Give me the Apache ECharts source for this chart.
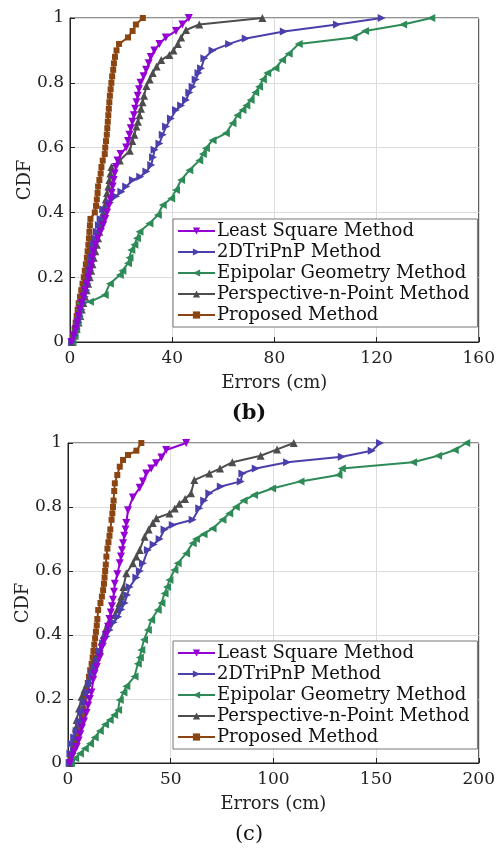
<!DOCTYPE html>
<html>
<head>
<meta charset="utf-8">
<title>CDF of errors</title>
<script src="https://cdn.jsdelivr.net/npm/echarts@6/dist/echarts.min.js"></script>
<style>
	html, body { margin: 0; padding: 0; background: #fff; }
	#main { width: 498px; height: 850px; }
</style>
</head>
<body>
<div id="main"></div>
<script>
// legend names
var methodNames = ['Least Square Method', '2DTriPnP Method', 'Epipolar Geometry Method', 'Perspective-n-Point Method', 'Proposed Method'];

// ---- (b) ----
var lsErrB = [0.6,1.5,2.3,2.9,3.4,3.9,4.5,5.2,5.9,6.6,7.2,7.8,8.4,8.8,9.2,10,10.9,12,13,13.8,14.5,15.2,15.8,16.3,16.7,17.1,17.5,18,18.6,19.8,22,22.7,23.3,23.8,24.4,25,25.5,26,26.5,27,27.6,28.8,29.8,30.8,31.6,33,35,37.5,41.5,44,46.5];
var lsCdfB = [0,0.02,0.04,0.06,0.08,0.10,0.12,0.14,0.16,0.18,0.20,0.22,0.24,0.26,0.28,0.30,0.32,0.34,0.36,0.38,0.40,0.42,0.44,0.46,0.48,0.50,0.52,0.54,0.56,0.58,0.60,0.62,0.64,0.66,0.68,0.70,0.72,0.74,0.76,0.78,0.80,0.82,0.84,0.86,0.88,0.90,0.92,0.94,0.96,0.98,1];

var triErrB = [0.8,1.8,2.6,3.3,3.9,4.5,5.2,5.8,6.4,6.9,7.4,7.9,8.3,8.6,9,9.4,9.8,10.5,11.3,12,13,15.6,18,20.1,22,24.6,27.5,29.9,31.8,32.5,33.1,35,36.3,37.6,39.5,41.5,43.5,45.4,46.7,48,49.2,50.3,51.3,52.6,55.8,62.3,68.8,83.7,104.5,122];
var triCdfB = [0,0.02,0.04,0.06,0.08,0.10,0.12,0.14,0.16,0.18,0.20,0.22,0.24,0.26,0.28,0.30,0.32,0.34,0.36,0.38,0.41,0.43,0.45,0.464,0.48,0.50,0.51,0.526,0.546,0.57,0.593,0.613,0.64,0.665,0.69,0.716,0.73,0.747,0.77,0.788,0.81,0.83,0.845,0.876,0.90,0.92,0.937,0.958,0.98,1];

var epiErrB = [1,1.8,2.4,2.9,3.3,3.6,3.9,7.8,13.6,15.6,19.5,20.5,22.7,23.3,24,25.2,26.2,27.2,31.1,34.4,36.3,39.6,41.5,43.5,46.7,50.6,52,53.2,55.8,61,63.6,65.5,67.5,69,70.7,72.5,74,75.5,77.2,80.4,83,85.6,89.5,111,115.5,130.4,141.4];
var epiCdfB = [0,0.02,0.04,0.06,0.08,0.10,0.12,0.124,0.145,0.18,0.207,0.22,0.243,0.26,0.284,0.30,0.32,0.34,0.366,0.392,0.423,0.443,0.469,0.50,0.53,0.56,0.58,0.598,0.623,0.644,0.675,0.70,0.716,0.73,0.747,0.77,0.788,0.81,0.83,0.845,0.87,0.89,0.92,0.94,0.96,0.98,1];

var pnpErrB = [0.8,1.8,2.6,3.3,4,4.6,5.2,5.9,6.5,7.1,7.7,8.3,8.8,9.3,9.9,10.5,11,11.5,12,12.5,13,13.5,14,14.5,15,15.4,15.8,16.2,19.5,23.4,24.4,25.2,26,26.6,27.2,27.8,28.4,29,29.9,31.2,32.4,33.9,35.7,38.9,40.5,42.2,43.5,45.4,50.6,75.3];
var pnpCdfB = [0,0.02,0.04,0.06,0.08,0.10,0.12,0.14,0.16,0.18,0.20,0.22,0.24,0.26,0.28,0.30,0.32,0.34,0.36,0.38,0.40,0.42,0.44,0.46,0.48,0.50,0.52,0.54,0.56,0.59,0.62,0.64,0.665,0.68,0.70,0.72,0.74,0.76,0.79,0.81,0.83,0.85,0.87,0.886,0.90,0.92,0.94,0.963,0.98,1];

var propErrB = [0.6,1.2,1.8,2.2,2.6,3.0,3.4,3.9,4.4,4.9,5.4,5.8,6.2,6.6,6.9,7.2,7.4,7.6,7.8,8.0,9.7,10.2,10.5,10.8,11.0,11.5,12.0,12.3,12.8,13.6,13.8,14.1,14.4,14.6,14.8,15.0,15.2,15.4,15.6,15.9,16.2,16.5,16.9,17.2,17.6,18.2,19.2,22.7,24.5,25.8,28.5];
var propCdfB = [0,0.02,0.04,0.06,0.08,0.10,0.12,0.14,0.16,0.18,0.20,0.22,0.24,0.26,0.28,0.30,0.32,0.34,0.36,0.38,0.40,0.42,0.44,0.46,0.48,0.50,0.52,0.54,0.56,0.58,0.60,0.62,0.64,0.66,0.68,0.70,0.72,0.74,0.76,0.78,0.80,0.82,0.84,0.86,0.88,0.90,0.92,0.94,0.96,0.98,1];

// ---- (c) ----
var lsErrC = [1,2,3,4.2,5.2,6,6.8,7.8,9,9.8,10.6,11.4,12.3,13,14,15.5,16.5,17.5,18.5,19.5,20.2,20.8,21.4,21.9,22.4,22.8,24,25.2,25.8,26.3,26.8,27.4,28,28.4,29.2,31.6,34.9,36.5,38.1,40.5,42.9,45.5,47.8,57.5];
var lsCdfC = [0,0.02,0.035,0.05,0.07,0.09,0.11,0.13,0.156,0.18,0.20,0.22,0.26,0.28,0.30,0.33,0.36,0.38,0.40,0.426,0.45,0.47,0.49,0.51,0.535,0.56,0.59,0.624,0.645,0.665,0.687,0.71,0.73,0.75,0.79,0.83,0.86,0.88,0.905,0.92,0.937,0.955,0.978,1];

var triErrC = [0.8,1.2,1.8,3,4.2,5.5,6.8,8,9.4,10.7,11.8,13,14.2,15.6,17.1,18.7,20.3,22.3,24.4,26,27.6,28.8,30,33.3,35,36.5,38.9,41.7,44.6,47,51,60.7,63.9,66.3,68.8,74.4,84.1,84.9,91.4,106.7,133.3,147.9,151.9];
var triCdfC = [0,0.03,0.06,0.08,0.10,0.13,0.16,0.19,0.22,0.25,0.28,0.30,0.32,0.35,0.374,0.395,0.416,0.44,0.457,0.48,0.50,0.525,0.55,0.58,0.60,0.624,0.666,0.683,0.70,0.73,0.744,0.76,0.796,0.82,0.843,0.864,0.88,0.905,0.92,0.94,0.957,0.976,1];

var epiErrC = [1.5,3.5,5.8,8.2,10.7,13,15.5,18,20.3,22.5,24.4,25.2,27,28.4,32.4,34,35,35.7,37,38.9,40.5,43.7,45.5,47,48.2,49.4,51.8,53.4,57.5,60.7,62.3,66,70.4,75.2,78.5,81.7,85.5,90.6,99.4,113.2,131.7,133.3,168,180.2,188.3,193.9];
var epiCdfC = [0,0.015,0.03,0.045,0.06,0.08,0.10,0.12,0.134,0.15,0.166,0.197,0.22,0.24,0.27,0.31,0.33,0.353,0.385,0.416,0.447,0.478,0.50,0.53,0.55,0.572,0.603,0.624,0.655,0.687,0.70,0.715,0.733,0.76,0.78,0.80,0.82,0.8375,0.858,0.88,0.90,0.92,0.94,0.96,0.978,1];

var pnpErrC = [1,2,3,3.8,4.2,5.4,6.6,8,9.5,11.5,12.5,13.5,15.5,16.5,17.5,18.5,19.5,22.8,24,25,26,27,28.4,31.6,33.3,34.9,37.3,39.3,41.3,43,49.4,52,54.2,57,59.9,61.5,68.8,74,80,93.8,101.8,109.9];
var pnpCdfC = [0,0.04,0.08,0.11,0.134,0.17,0.207,0.23,0.25,0.29,0.31,0.33,0.353,0.38,0.40,0.42,0.437,0.4625,0.48,0.50,0.52,0.55,0.593,0.624,0.645,0.666,0.707,0.73,0.75,0.765,0.78,0.795,0.81,0.825,0.843,0.884,0.905,0.92,0.94,0.96,0.98,1];

var propErrC = [1,1.6,2.4,3.4,4.3,5.2,6,6.8,7.5,8,8.4,9,9.6,10.2,10.8,11.5,12,12.4,12.8,13.2,13.6,14,14.3,14.7,15.8,16.5,17.1,17.5,17.8,18.1,18.4,18.7,19.2,19.7,20.2,20.6,21.2,21.6,21.9,22.2,22.5,22.8,24,25.2,26.8,29.2,33.3,35.7];
var propCdfC = [0,0.02,0.04,0.07,0.09,0.11,0.13,0.15,0.17,0.19,0.21,0.23,0.25,0.27,0.29,0.31,0.33,0.35,0.37,0.39,0.41,0.43,0.45,0.478,0.50,0.52,0.54,0.56,0.58,0.60,0.62,0.645,0.67,0.69,0.71,0.73,0.76,0.78,0.80,0.82,0.85,0.874,0.90,0.926,0.947,0.9625,0.976,1];

var colors = ['#9400d3', '#4b3fac', '#2e8b57', '#4d4d4d', '#8b4513'];
var symbols = ['triangle', 'triangle', 'triangle', 'triangle', 'rect'];
var rotates = [180, -90, 90, 0, 0];

var fontFam = 'DejaVu Serif';

function pairs(xs, ys) {
	var out = [];
	for (var i = 0; i < xs.length; i++) {
		out.push([xs[i], ys[i]]);
	}
	return out;
}

function makeXAxis(idx, max, step) {
	return {
		gridIndex : idx,
		type : 'value',
		min : 0,
		max : max,
		interval : step,
		name : 'Errors (cm)',
		nameLocation : 'middle',
		nameGap : 32,
		nameMoveOverlap : false,
		nameTextStyle : { color : '#222', fontSize : 18, fontFamily : fontFam },
		axisLine : { lineStyle : { color : '#222', width : 1 } },
		axisTick : { inside : true, length : 5, lineStyle : { color : '#222' } },
		axisLabel : { color : '#222', fontSize : 17, fontFamily : fontFam, margin : 8 },
		splitLine : { show : true, lineStyle : { color : '#dcdcdc', width : 1 } }
	};
}

function makeYAxis(idx) {
	return {
		gridIndex : idx,
		type : 'value',
		min : 0,
		max : 1,
		interval : 0.2,
		name : 'CDF',
		nameLocation : 'middle',
		nameGap : 36,
		nameMoveOverlap : false,
		nameTextStyle : { color : '#222', fontSize : 18, fontFamily : fontFam },
		axisLine : { lineStyle : { color : '#222', width : 1 } },
		axisTick : { inside : true, length : 5, lineStyle : { color : '#222' } },
		axisLabel : {
			color : '#222', fontSize : 17, fontFamily : fontFam, margin : 6,
			formatter : function(v) { return String(+v.toFixed(1)); }
		},
		splitLine : { show : true, lineStyle : { color : '#dcdcdc', width : 1 } }
	};
}

var setsB = [pairs(lsErrB, lsCdfB), pairs(triErrB, triCdfB), pairs(epiErrB, epiCdfB), pairs(pnpErrB, pnpCdfB), pairs(propErrB, propCdfB)];
var setsC = [pairs(lsErrC, lsCdfC), pairs(triErrC, triCdfC), pairs(epiErrC, epiCdfC), pairs(pnpErrC, pnpCdfC), pairs(propErrC, propCdfC)];

var seriesList = [];
function addSeries(sets, idx) {
	for (var i = 0; i < sets.length; i++) {
		seriesList.push({
			name : methodNames[i],
			type : 'line',
			xAxisIndex : idx,
			yAxisIndex : idx,
			data : sets[i],
			color : colors[i],
			symbol : symbols[i],
			symbolSize : symbols[i] == 'rect' ? 6 : 8,
			symbolRotate : rotates[i],
			showAllSymbol : true,
			lineStyle : { width : 2 },
			itemStyle : { color : colors[i] },
			z : 10 - i,
			animation : false
		});
	}
}
addSeries(setsB, 0);
addSeries(setsC, 1);

function makeLegend(top) {
	return {
		data : methodNames,
		orient : 'vertical',
		left : 173,
		top : top,
		width : 296,
		itemWidth : 37,
		itemHeight : 9,
		itemGap : 3,
		padding : [3, 8, 3, 4],
		backgroundColor : '#fff',
		borderColor : '#777',
		borderWidth : 1,
		borderRadius : 0,
		textStyle : { color : '#111', fontSize : 18, fontFamily : fontFam, padding : [0, 0, 0, -3] }
	};
}

var chart = echarts.init(document.getElementById('main'));
chart.setOption({
	backgroundColor : '#fff',
	animation : false,
	grid : [
		{ left : 70, top : 18, width : 411, height : 324, show : true, borderColor : '#222', borderWidth : 1, backgroundColor : 'transparent' },
		{ left : 68, top : 443, width : 413, height : 320, show : true, borderColor : '#222', borderWidth : 1, backgroundColor : 'transparent' }
	],
	xAxis : [makeXAxis(0, 160, 40), makeXAxis(1, 200, 50)],
	yAxis : [makeYAxis(0), makeYAxis(1)],
	legend : [makeLegend(219), makeLegend(641)],
	series : seriesList,
	graphic : [
		{ type : 'text', left : 'center', top : 403, style : { text : '(b)', fontSize : 21, fontFamily : fontFam, fontWeight : 'bold', fill : '#111' } },
		{ type : 'text', left : 'center', top : 824, style : { text : '(c)', fontSize : 21, fontFamily : fontFam, fill : '#111' } }
	]
});
</script>
</body>
</html>
